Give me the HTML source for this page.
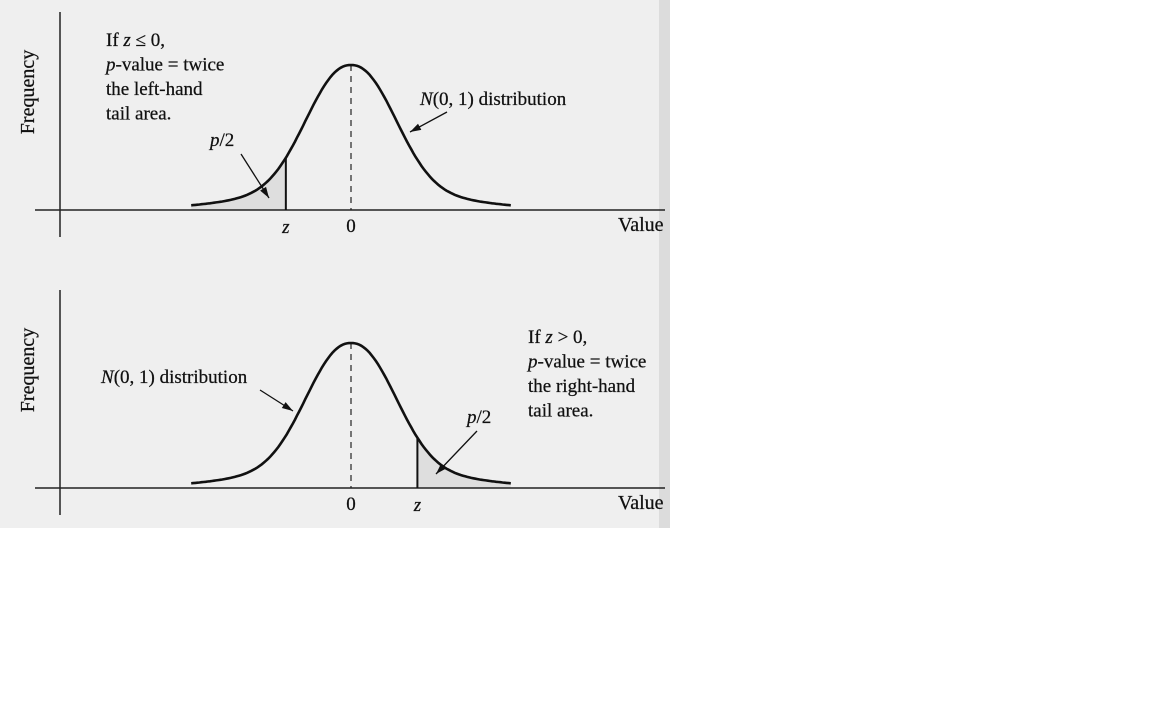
<!DOCTYPE html>
<html><head><meta charset="utf-8"><style>
html,body{margin:0;padding:0;background:#fff;width:1152px;height:720px;overflow:hidden}
svg{display:block}
text{font-family:"Liberation Serif",serif;fill:#111;stroke:#111;stroke-width:0.25}
</style></head><body>
<svg id="chart" width="1152" height="720">
<rect x="0" y="0" width="670" height="528" fill="#efefef"/>
<rect x="659" y="0" width="11" height="528" fill="#dcdcdc"/>
<g id="topPanel"></g>
<g id="bottomPanel"></g>
</svg>
<script>
// Data (in standard-normal units)
const curveRange = [-3.85, 3.85];
const peakValue = [1];
const tailWeight = [0.15];
const zTop = [-1.57];
const zBottom = [1.6];

const NS = 'http://www.w3.org/2000/svg';
function mk(parent, tag, attrs, txt){
  const e = document.createElementNS(NS, tag);
  for (const k in attrs) e.setAttribute(k, attrs[k]);
  if (txt !== undefined) e.textContent = txt;
  parent.appendChild(e); return e;
}
const cx = 351, sx = 41.5, hPx = 145;
function xs(v){ return cx + v*sx; }
function dens(v){
  const w = tailWeight[0];
  const core = Math.exp(-Math.pow(Math.abs(v)/1.42, 2.2));
  const tail = Math.exp(-v*v/(2*2.2*2.2));
  return peakValue[0]*((1-w)*core + w*tail);
}

function panel(g, baseY, z, right){
  const ys = v => baseY - dens(v)*hPx;
  let a = right ? z : curveRange[0], b = right ? curveRange[1] : z;
  let d = `M${xs(a)},${baseY}`;
  for (let v=a; v<=b+1e-9; v+=0.05) d += ` L${xs(v).toFixed(1)},${ys(v).toFixed(1)}`;
  d += ` L${xs(b)},${ys(b).toFixed(1)} L${xs(b)},${baseY} Z`;
  const sh = mk(g,'path',{d:d,fill:'#dedede'});
  
  
  const xa = mk(g,'line',{x1:35,y1:baseY,x2:665,y2:baseY,stroke:'#222','stroke-width':1.5});
  
  
  const ya = mk(g,'line',{x1:60,y1:baseY-198,x2:60,y2:baseY+27,stroke:'#222','stroke-width':1.5});
  
  
  const ml = mk(g,'line',{x1:xs(0),y1:ys(0),x2:xs(0),y2:baseY,stroke:'#222','stroke-width':1.2,'stroke-dasharray':'6,5'});
  
  
  const zl = mk(g,'line',{x1:xs(z),y1:ys(z),x2:xs(z),y2:baseY,stroke:'#111','stroke-width':2});
  
  
  let c = '';
  for (let v=curveRange[0]; v<=curveRange[1]+1e-9; v+=0.05) c += (c?' L':'M') + xs(v).toFixed(1)+','+ys(v).toFixed(1);
  const cu = mk(g,'path',{d:c,fill:'none',stroke:'#111','stroke-width':2.6});
  
  
  const t0 = mk(g,'text',{x:xs(0),y:baseY+22,'font-size':19,'text-anchor':'middle'},'0');
  
  
  const tz = mk(g,'text',{x:xs(z),y:baseY+23,'font-size':19,'text-anchor':'middle','font-style':'italic'},'z');
  
  
  const tv = mk(g,'text',{x:618,y:baseY+21,'font-size':20},'Value');
  
  
  const tf = mk(g,'text',{x:0,y:0,'font-size':20,'text-anchor':'middle',transform:`translate(34,${baseY-118}) rotate(-90)`},'Frequency');
  
  
}
function arrow(g, x1,y1,x2,y2, name){
  const l = mk(g,'line',{x1:x1,y1:y1,x2:x2,y2:y2,stroke:'#111','stroke-width':1.3});
  
  
  const ang = Math.atan2(y2-y1,x2-x1), L=11, W=3.5;
  const bx = x2-L*Math.cos(ang), by = y2-L*Math.sin(ang);
  const p = mk(g,'polygon',{points:`${x2},${y2} ${bx-W*Math.sin(ang)},${by+W*Math.cos(ang)} ${bx+W*Math.sin(ang)},${by-W*Math.cos(ang)}`,fill:'#111'});
  
  
}
function addSpans(t, parts){
  parts.forEach(p=>{
    const s = mk(t,'tspan',{}, p[0]);
    if (p[1]) s.setAttribute('font-style','italic');
  });
}
function lines(g, x, y0, arr, name){
  const t = mk(g,'text',{x:x,y:y0,'font-size':19});
  
  
  arr.forEach((parts,i)=>{
    const line = mk(t,'tspan',{x:x,y:y0+i*24.5});
    parts.forEach(p=>{
      const s = mk(line,'tspan',{}, p[0]);
      if (p[1]) s.setAttribute('font-style','italic');
    });
  });
}
const gTop = document.getElementById('topPanel'), gBot = document.getElementById('bottomPanel');
panel(gTop, 210, zTop[0], false);
panel(gBot, 488, zBottom[0], true);

lines(gTop, 106, 46, [[['If '],['z',1],[' ≤ 0,']], [['p',1],['-value = twice']], [['the left-hand']], [['tail area.']]], 'annotation-left-tail');
const tp1 = mk(gTop,'text',{x:210,y:146,'font-size':19}); addSpans(tp1,[['p',1],['/2']]);


arrow(gTop, 241,154, 269,198, 'p-half-arrow');
const tn1 = mk(gTop,'text',{x:420,y:105,'font-size':19}); addSpans(tn1,[['N',1],['(0, 1) distribution']]);


arrow(gTop, 447,112, 410,132, 'distribution-arrow');

lines(gBot, 528, 343, [[['If '],['z',1],[' > 0,']], [['p',1],['-value = twice']], [['the right-hand']], [['tail area.']]], 'annotation-right-tail');
const tp2 = mk(gBot,'text',{x:467,y:423,'font-size':19}); addSpans(tp2,[['p',1],['/2']]);


arrow(gBot, 477,431, 436,474, 'p-half-arrow');
const tn2 = mk(gBot,'text',{x:101,y:383,'font-size':19}); addSpans(tn2,[['N',1],['(0, 1) distribution']]);


arrow(gBot, 260,390, 293,411, 'distribution-arrow');
</script>
</body></html>
